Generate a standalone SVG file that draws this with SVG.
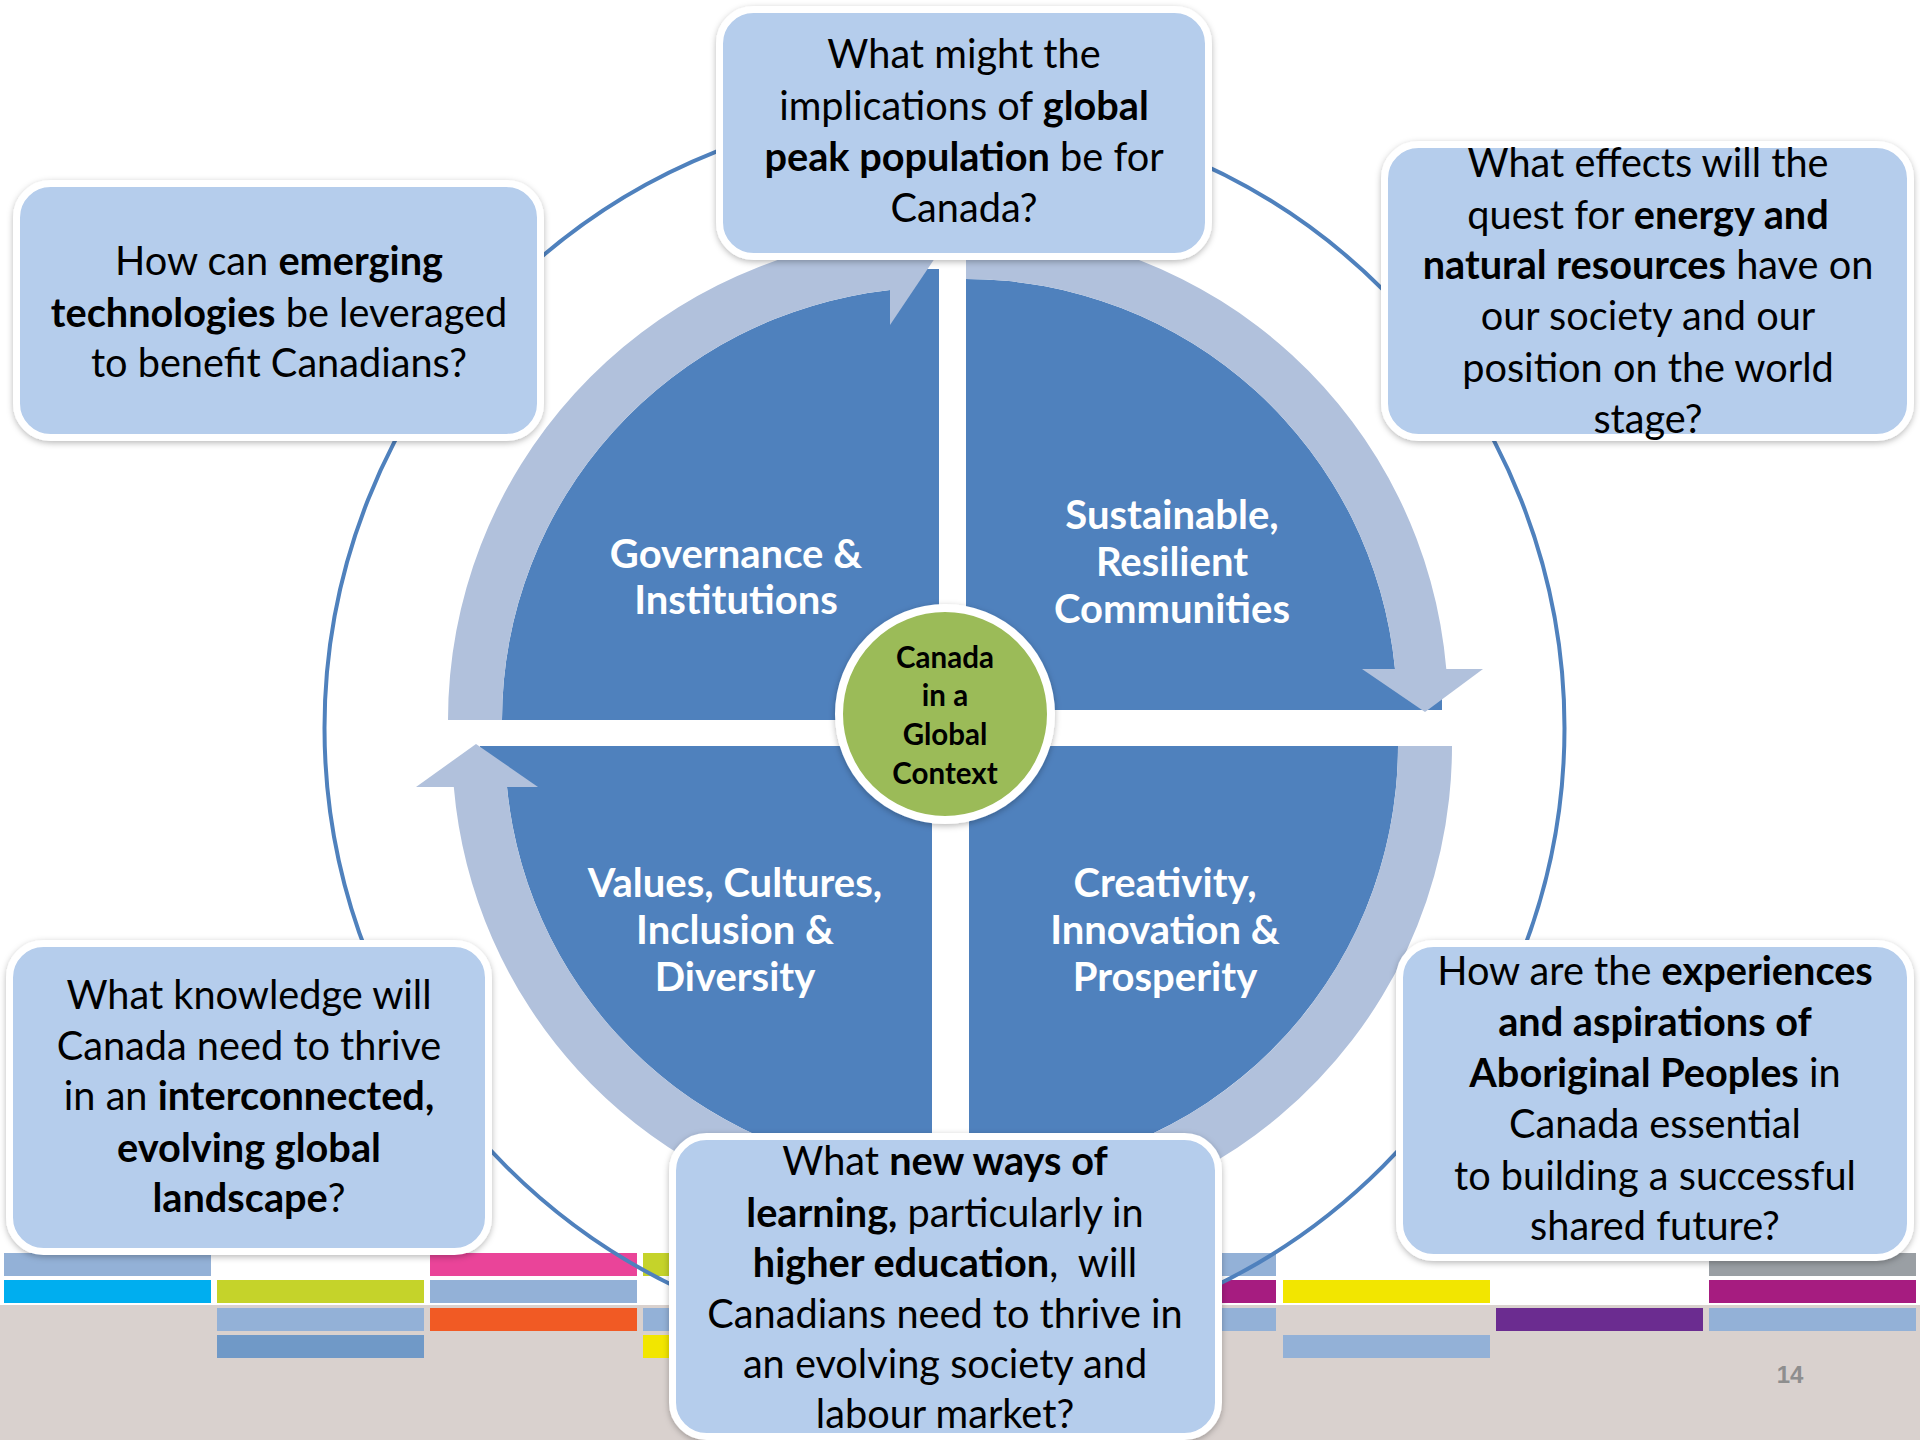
<svg xmlns="http://www.w3.org/2000/svg" width="1920" height="1440" viewBox="0 0 1920 1440">
<defs>
<filter id="sh" x="-10%" y="-10%" width="120%" height="120%">
<feDropShadow dx="0" dy="2" stdDeviation="3" flood-color="#000" flood-opacity="0.28"/>
</filter>
<style>
.box{fill:#B5CDEC;stroke:#fff;stroke-width:7;filter:url(#sh)}
.bt{font-family:Lato,"Open Sans",sans-serif;font-size:39.7px;fill:#000;text-anchor:middle}
.b{font-weight:bold}
.ql{font-family:Lato,"Open Sans",sans-serif;font-weight:bold;font-size:40px;fill:#fff;text-anchor:middle}
.ct{font-family:Lato,"Open Sans",sans-serif;font-weight:bold;font-size:29.5px;fill:#000;text-anchor:middle}
.quad{fill:#4F81BD}
.ring{fill:#B1C1DC}
.lb{fill:#93B1D7}.cy{fill:#00AEEF}.yg{fill:#C5D32A}.db{fill:#7099C7}.pk{fill:#EA4499}
.or{fill:#F15A24}.ye{fill:#F2E600}.mg{fill:#A61C80}.pu{fill:#6B2C90}.gr{fill:#9A9FA4}
</style>
</defs>
<rect x="0" y="0" width="1920" height="1440" fill="#fff"/>
<rect x="0" y="1305" width="1920" height="135" fill="#D9D1CE"/>
<g id="color-bars">
<rect class="lb" x="4" y="1253" width="207" height="23"/>
<rect class="cy" x="4" y="1280" width="207" height="23"/>
<rect class="yg" x="217" y="1280" width="207" height="23"/>
<rect class="lb" x="217" y="1308" width="207" height="23"/>
<rect class="db" x="217" y="1335" width="207" height="23"/>
<rect class="pk" x="430" y="1253" width="207" height="23"/>
<rect class="lb" x="430" y="1280" width="207" height="23"/>
<rect class="or" x="430" y="1308" width="207" height="23"/>
<rect class="yg" x="643" y="1253" width="207" height="23"/>
<rect class="lb" x="643" y="1308" width="207" height="23"/>
<rect class="ye" x="643" y="1335" width="207" height="23"/>
<rect class="lb" x="1069" y="1253" width="207" height="23"/>
<rect class="mg" x="1069" y="1280" width="207" height="23"/>
<rect class="lb" x="1069" y="1308" width="207" height="23"/>
<rect class="ye" x="1283" y="1280" width="207" height="23"/>
<rect class="lb" x="1283" y="1335" width="207" height="23"/>
<rect class="pu" x="1496" y="1308" width="207" height="23"/>
<rect class="gr" x="1709" y="1253" width="207" height="23"/>
<rect class="mg" x="1709" y="1280" width="207" height="23"/>
<rect class="lb" x="1709" y="1308" width="207" height="23"/>
</g>
<g id="connectors">
<circle cx="944.5" cy="728" r="620" fill="none" stroke="#4F81BD" stroke-width="4"/>
</g>
<g id="quad-governance">
<path class="quad" d="M939,720 H502 A437,433 0 0 1 890,290 V269 H939 Z"/>
</g>
<g id="quad-sustainable">
<path class="quad" d="M966,710 V279 A431,431 0 0 1 1395,669 H1442 V710 Z"/>
</g>
<g id="quad-creativity">
<path class="quad" d="M969,746 H1398 A429,429 0 0 1 969,1175 Z"/>
</g>
<g id="quad-values">
<path class="quad" d="M932,746 H480 V787 H507 A427,427 0 0 0 932,1173 Z"/>
</g>
<g id="cycle-arrows">
<path class="ring" d="M448,720 A491,487 0 0 1 890,235.4 L890,290 A437,433 0 0 0 502,720 Z"/>
<polygon class="ring" points="890,198 890,325 935,258"/>
<path class="ring" d="M966,228 A482,482 0 0 1 1446.3,669 L1395,669 A431,431 0 0 0 966,279 Z"/>
<polygon class="ring" points="1362,669 1483,669 1425,712"/>
<path class="ring" d="M1398,746 H1452 A483,483 0 0 1 885.1,1221.7 L894.5,1168.5 A429,429 0 0 0 1398,746 Z"/>
<path class="ring" d="M848.6,1218.7 A480,480 0 0 1 453.8,787 L507,787 A427,427 0 0 0 857.9,1166.5 Z"/>
<polygon class="ring" points="416,787 538,787 476,744"/>
</g>
<g id="quad-labels">
<text class="ql" x="736" y="568">Governance &amp;</text>
<text class="ql" x="736" y="614">Institutions</text>
<text class="ql" x="1172" y="529">Sustainable,</text>
<text class="ql" x="1172" y="576">Resilient</text>
<text class="ql" x="1172" y="623">Communities</text>
<text class="ql" x="735" y="897">Values, Cultures,</text>
<text class="ql" x="735" y="944">Inclusion &amp;</text>
<text class="ql" x="735" y="991">Diversity</text>
<text class="ql" x="1165" y="897">Creativity,</text>
<text class="ql" x="1165" y="944">Innovation &amp;</text>
<text class="ql" x="1165" y="991">Prosperity</text>
</g>
<g id="center-node">
<circle cx="945" cy="714" r="106" fill="#9BBB59" stroke="#fff" stroke-width="8" filter="url(#sh)"/>
<text class="ct" x="945" y="668">Canada</text>
<text class="ct" x="945" y="706">in a</text>
<text class="ct" x="945" y="745">Global</text>
<text class="ct" x="945" y="784">Context</text>
</g>
<g id="q-population">
<rect class="box" x="719.5" y="9.5" width="489" height="247" rx="34"/>
<text class="bt" x="964" y="68">What might the</text>
<text class="bt" x="964" y="120">implications of <tspan class="b">global</tspan></text>
<text class="bt" x="964" y="171"><tspan class="b">peak population</tspan> be for</text>
<text class="bt" x="964" y="222">Canada?</text>
</g>
<g id="q-technologies">
<rect class="box" x="16.5" y="183.5" width="524" height="254" rx="34"/>
<text class="bt" x="279" y="275">How can <tspan class="b">emerging</tspan></text>
<text class="bt" x="279" y="327"><tspan class="b">technologies</tspan> be leveraged</text>
<text class="bt" x="279" y="377">to benefit Canadians?</text>
</g>
<g id="q-energy">
<rect class="box" x="1384.5" y="144.5" width="526" height="293" rx="34"/>
<text class="bt" x="1648" y="177">What effects will the</text>
<text class="bt" x="1648" y="229">quest for <tspan class="b">energy and</tspan></text>
<text class="bt" x="1648" y="279"><tspan class="b">natural resources</tspan> have on</text>
<text class="bt" x="1648" y="330">our society and our</text>
<text class="bt" x="1648" y="382">position on the world</text>
<text class="bt" x="1648" y="433">stage?</text>
</g>
<g id="q-knowledge">
<rect class="box" x="9.5" y="943.5" width="479" height="308" rx="34"/>
<text class="bt" x="249" y="1009">What knowledge will</text>
<text class="bt" x="249" y="1060">Canada need to thrive</text>
<text class="bt" x="249" y="1110">in an <tspan class="b">interconnected,</tspan></text>
<text class="bt" x="249" y="1162"><tspan class="b">evolving global</tspan></text>
<text class="bt" x="249" y="1212"><tspan class="b">landscape</tspan>?</text>
</g>
<g id="q-aboriginal">
<rect class="box" x="1399.5" y="943.5" width="511" height="314" rx="34"/>
<text class="bt" x="1655" y="985">How are the <tspan class="b">experiences</tspan></text>
<text class="bt" x="1655" y="1036"><tspan class="b">and aspirations of</tspan></text>
<text class="bt" x="1655" y="1087"><tspan class="b">Aboriginal Peoples</tspan> in</text>
<text class="bt" x="1655" y="1138">Canada essential</text>
<text class="bt" x="1655" y="1190">to building a successful</text>
<text class="bt" x="1655" y="1240">shared future?</text>
</g>
<g id="q-learning">
<rect class="box" x="672.5" y="1136.5" width="546" height="300" rx="34"/>
<text class="bt" x="945" y="1175">What <tspan class="b">new ways of</tspan></text>
<text class="bt" x="945" y="1227"><tspan class="b">learning,</tspan> particularly in</text>
<text class="bt" x="945" y="1277" xml:space="preserve"><tspan class="b">higher education</tspan>,  will</text>
<text class="bt" x="945" y="1328">Canadians need to thrive in</text>
<text class="bt" x="945" y="1378">an evolving society and</text>
<text class="bt" x="945" y="1428">labour market?</text>
</g>
<text x="1790" y="1383" font-family="Liberation Sans, sans-serif" font-weight="bold" font-size="24" fill="#8E8E8E" text-anchor="middle">14</text>
</svg>
